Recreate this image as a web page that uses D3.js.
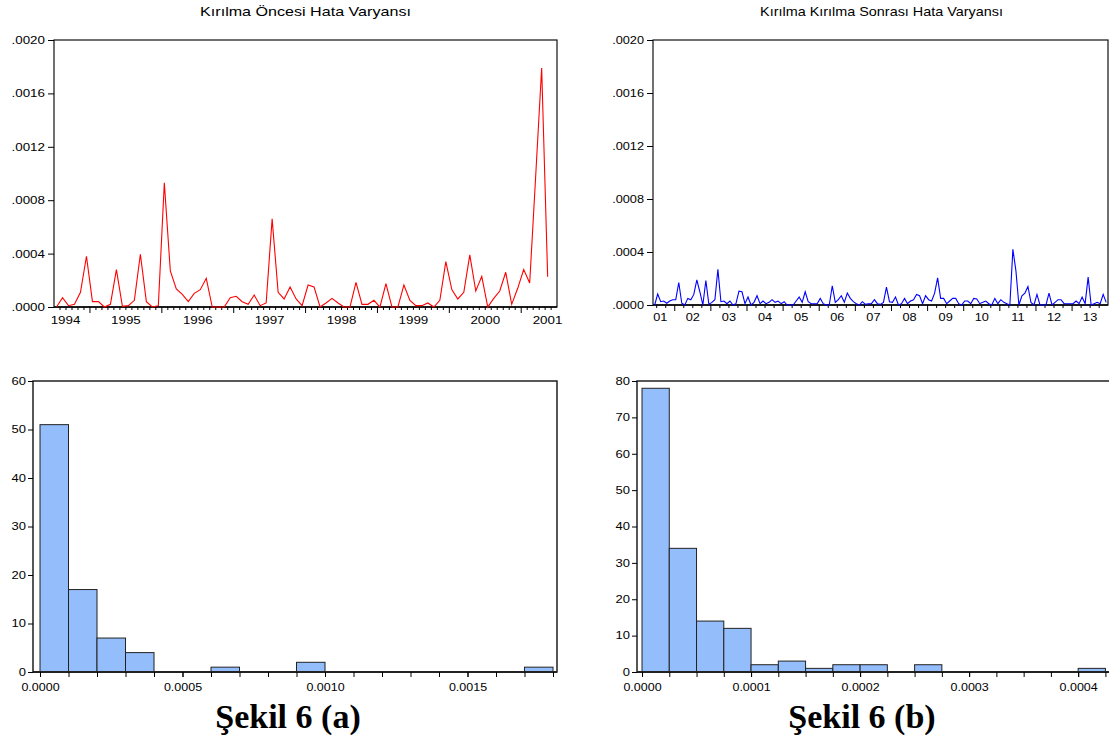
<!DOCTYPE html>
<html>
<head>
<meta charset="utf-8">
<script src="https://cdn.jsdelivr.net/npm/d3@7"></script>
<style>
  html, body { margin: 0; padding: 0; background: #fff; }
  svg { display: block; }
  text { font-family: "Liberation Sans", Arial, sans-serif; fill: #000; }
  .cap { font-family: "Liberation Serif", "Times New Roman", serif; font-weight: bold; }
</style>
</head>
<body>
<script>
// ---------------- DATA ----------------
// Kırılma Öncesi Hata Varyansı : monthly, 1994:07 - 2001:05 (83 obs)
const preYears = [1994, 1995, 1996, 1997, 1998, 1999, 2000, 2001];
const preValues = [
  0.0, 0.00007, 0.00001, 0.00002, 0.00011, 0.00038, 0.00004, 0.00004, 0.0, 0.00002,
  0.00028, 0.000005, 0.00001, 0.00005, 0.000395, 0.00004, 0.0, 0.00001, 0.00093, 0.00027,
  0.000135, 0.000095, 0.00004, 0.000102, 0.00013, 0.000215, 0.0, 0.0, 0.0, 0.00007,
  0.00008, 0.00004, 0.00002, 0.00009, 0.00001, 0.00003, 0.00066, 0.00011, 0.00006, 0.00015,
  0.00006, 0.00001, 0.000165, 0.00015, 0.0, 0.00003, 0.000065, 0.00003, 0.0, 0.0,
  0.000185, 0.00002, 0.00002, 0.00005, 0.0, 0.000175, 0.0, 0.0, 0.000165, 0.00005,
  0.00001, 0.00001, 0.00003, 0.0, 0.00005, 0.00034, 0.00013, 0.00006, 0.00011, 0.00039,
  0.00012, 0.00023, 0.0, 0.000065, 0.00012, 0.00026, 0.00002, 0.00014, 0.00028, 0.00018,
  0.00098, 0.00179, 0.000227
];
// Kırılma Sonrası Hata Varyansı : monthly, 2001:06 - 2013:12 (151 obs)
const postYears = ["01","02","03","04","05","06","07","08","09","10","11","12","13"];
const postValues = [
  0.0, 0.000083, 0.000025, 0.00003, 0.000013, 0.00003, 0.00004, 0.00004, 0.00017, 0.000013,
  0.0, 0.00005, 0.00004, 0.00008, 0.00019, 0.0001, 0.0, 0.000185, 0.000005, 0.00002,
  0.00004, 0.00027, 0.000025, 0.00003, 0.00001, 0.00003, 0.0, 0.00001, 0.000105, 0.0001,
  0.00001, 0.00006, 0.0, 0.00002, 0.00007, 0.00001, 0.00003, 0.00001, 0.00002, 0.00004,
  0.00002, 0.00003, 0.00001, 0.000025, 0.0, 0.0, 0.0, 0.00003, 0.00006, 0.00002,
  0.0001, 0.000025, 0.00001, 0.00001, 0.00001, 0.00005, 0.00001, 0.0, 0.0, 0.000145,
  0.00002, 0.00004, 0.00007, 0.00002, 0.00009, 0.00005, 0.000025, 0.00001, 0.0, 0.000025,
  0.000005, 0.00001, 0.00001, 0.00004, 0.00001, 0.000005, 0.00002, 0.000135, 0.000025, 0.00002,
  0.00006, 0.0, 0.00001, 0.00005, 0.00001, 0.00003, 0.00004, 0.00008, 0.00007, 0.00001,
  0.00007, 0.00004, 0.00003, 0.00009, 0.000205, 0.00005, 0.00005, 0.00001, 0.00003, 0.00005,
  0.00005, 0.00001, 0.0, 0.00003, 0.00003, 0.00001, 0.00005, 0.000045, 0.00001, 0.00002,
  0.00003, 0.00001, 0.0, 0.00005, 0.00001, 0.00004, 0.00002, 0.00001, 0.0, 0.00042,
  0.00026, 0.0, 0.00007, 0.00009, 0.00014, 0.00002, 0.0, 0.00008, 0.0, 0.0,
  0.0, 0.00009, 0.0, 0.00002, 0.00004, 0.00004, 0.00001, 0.00001, 0.00001, 0.00001,
  0.00003, 0.00001, 0.00006, 0.00001, 0.00021, 0.0, 0.00001, 0.00002, 0.00001, 0.00008,
  0.00002
];
const lineTicksY = [0, 0.0004, 0.0008, 0.0012, 0.0016, 0.0020];

// Histograms (bin width, counts per bin starting at 0)
const histAWidth = 0.0001;
const histACounts = [51, 17, 7, 4, 0, 0, 1, 0, 0, 2, 0, 0, 0, 0, 0, 0, 0, 1];
const histATicksX = [0, 0.0005, 0.0010, 0.0015];
const histATicksY = [0, 10, 20, 30, 40, 50, 60];
const histBWidth = 0.000025;
const histBCounts = [78, 34, 14, 12, 2, 3, 1, 2, 2, 0, 2, 0, 0, 0, 0, 0, 1];
const histBTicksX = [0, 0.0001, 0.0002, 0.0003, 0.0004];
const histBTicksY = [0, 10, 20, 30, 40, 50, 60, 70, 80];

const titleA = "Kırılma Öncesi Hata Varyansı";
const titleB = "Kırılma Kırılma Sonrası Hata Varyansı";
const captionA = "Şekil 6 (a)";
const captionB = "Şekil 6 (b)";

// ---------------- DRAW ----------------
const STRETCH = 1.25;
const svg = d3.select("body").append("svg").attr("width", 1109).attr("height", 739);

function stretchTexts(g, size) {
  g.selectAll("text").each(function () {
    const t = d3.select(this);
    const x = +t.attr("x") || 0, y = +t.attr("y") || 0;
    t.attr("x", null).attr("y", null)
     .attr("transform", `translate(${x},${y}) scale(${STRETCH},1)`)
     .style("font-size", size + "px").attr("fill", "#000");
  });
  g.selectAll("line").attr("stroke", "#000");
  g.select(".domain").remove();
  g.attr("font-family", null);
}

function frame(x0, y0, x1, y1) {
  svg.append("rect").attr("x", x0).attr("y", y0).attr("width", x1 - x0).attr("height", y1 - y0)
    .attr("fill", "none").attr("stroke", "#111").attr("stroke-width", 1.2);
  svg.append("line").attr("x1", x0).attr("x2", x1).attr("y1", y1).attr("y2", y1)
    .attr("stroke", "#000").attr("stroke-width", 1.6);
}

function title(text, cx, y, size, targetW) {
  const t = svg.append("text").attr("text-anchor", "middle").style("font-size", size + "px").text(text);
  const w = t.node().getComputedTextLength();
  const s = targetW / w;
  t.attr("transform", `translate(${cx},${y}) scale(${s},1)`);
}

const fmtDot = d => d3.format(".4f")(d).replace(/^0/, "");

// ---- Panel 1: pre-break line ----
(function () {
  const L = 54, R = 557, T = 40, B = 307;
  const x = d3.scaleLinear().domain([-0.42, 83.56]).range([L, R]);
  const y = d3.scaleLinear().domain([0, 0.002]).range([B, T]);
  frame(L, T, R, B);
  const gy = svg.append("g").attr("transform", `translate(${L},0)`)
    .call(d3.axisLeft(y).tickValues(lineTicksY).tickFormat(fmtDot).tickSize(6).tickPadding(3));
  stretchTexts(gy, 10.7);
  const majors = d3.range(0, 7).map(k => 5.5 + 12 * k);
  const minors = d3.range(0, 83).map(i => i + 0.5).filter(v => !majors.includes(v));
  const gmin = svg.append("g").attr("transform", `translate(0,${B})`)
    .call(d3.axisBottom(x).tickValues(minors).tickFormat("").tickSize(3));
  stretchTexts(gmin, 10);
  const gmaj = svg.append("g").attr("transform", `translate(0,${B})`)
    .call(d3.axisBottom(x).tickValues(majors).tickFormat("").tickSize(6));
  stretchTexts(gmaj, 10);
  const labPos = preYears.map((yr, k) => {
    const px = Math.max(65, Math.min(547, x(5.5 + 12 * (k - 1) + 6)));
    return x.invert(px);
  });
  const glab = svg.append("g").attr("transform", `translate(0,${B})`)
    .call(d3.axisBottom(x).tickValues(labPos).tickFormat((d, i) => preYears[i]).tickSize(0).tickPadding(9));
  stretchTexts(glab, 10.7);
  const line = d3.line().x((d, i) => x(i)).y(d => y(d));
  svg.append("path").datum(preValues).attr("d", line)
    .attr("fill", "none").attr("stroke", "#ff0000").attr("stroke-width", 1.1);
  title(titleA, 305.5, 16, 12.5, 211);
})();

// ---- Panel 2: post-break line ----
(function () {
  const L = 653, R = 1108, T = 40, B = 305;
  const x = d3.scaleLinear().domain([-0.56, 150.6]).range([L, R]);
  const y = d3.scaleLinear().domain([0, 0.002]).range([B, T]);
  frame(L, T, R, B);
  const gy = svg.append("g").attr("transform", `translate(${L},0)`)
    .call(d3.axisLeft(y).tickValues(lineTicksY).tickFormat(fmtDot).tickSize(6).tickPadding(3));
  stretchTexts(gy, 10.2);
  const majors = d3.range(0, 12).map(k => 6.5 + 12 * k);
  const minors = d3.range(0, 50).map(k => 0.5 + 3 * k).filter(v => v < 150.6 && !majors.includes(v));
  const gmin = svg.append("g").attr("transform", `translate(0,${B})`)
    .call(d3.axisBottom(x).tickValues(minors).tickFormat("").tickSize(3));
  stretchTexts(gmin, 10);
  const gmaj = svg.append("g").attr("transform", `translate(0,${B})`)
    .call(d3.axisBottom(x).tickValues(majors).tickFormat("").tickSize(6));
  stretchTexts(gmaj, 10);
  const labPos = postYears.map((yr, k) => {
    const px = Math.max(659.7, Math.min(1100, x(0.5 + 12 * k)));
    return x.invert(px);
  });
  const glab = svg.append("g").attr("transform", `translate(0,${B})`)
    .call(d3.axisBottom(x).tickValues(labPos).tickFormat((d, i) => postYears[i]).tickSize(0).tickPadding(9));
  stretchTexts(glab, 10.2);
  const line = d3.line().x((d, i) => x(i)).y(d => y(d));
  svg.append("path").datum(postValues).attr("d", line)
    .attr("fill", "none").attr("stroke", "#0000ff").attr("stroke-width", 1.1);
  title(titleB, 881.5, 16, 12, 243);
})();

// ---- Histograms ----
function histogram(opts) {
  const { L, R, T, B, xDom, yMax, width, counts, ticksX, ticksY, minorStep, nMinor, fmt } = opts;
  const x = d3.scaleLinear().domain(xDom).range([L, R]);
  const y = d3.scaleLinear().domain([0, yMax]).range([B, T]);
  const bins = counts.map((c, i) => ({ x0: i * width, x1: (i + 1) * width, c }));
  svg.append("g").selectAll("rect").data(bins.filter(b => b.c > 0)).join("rect")
    .attr("x", d => x(d.x0)).attr("width", d => x(d.x1) - x(d.x0))
    .attr("y", d => y(d.c)).attr("height", d => y(0) - y(d.c))
    .attr("fill", "#94bdfb").attr("stroke", "#222").attr("stroke-width", 1);
  svg.append("rect").attr("x", L).attr("y", T).attr("width", R - L).attr("height", B - T)
    .attr("fill", "none").attr("stroke", "#111").attr("stroke-width", 1.4);
  svg.append("line").attr("x1", L).attr("x2", R).attr("y1", B).attr("y2", B)
    .attr("stroke", "#222").attr("stroke-width", 2);
  const gy = svg.append("g").attr("transform", `translate(${L},0)`)
    .call(d3.axisLeft(y).tickValues(ticksY).tickSize(5).tickPadding(2));
  stretchTexts(gy, 10.4);
  const minors = d3.range(0, nMinor + 1).map(k => k * minorStep);
  const gmin = svg.append("g").attr("transform", `translate(0,${B})`)
    .call(d3.axisBottom(x).tickValues(minors).tickFormat("").tickSize(5));
  stretchTexts(gmin, 10);
  const gx = svg.append("g").attr("transform", `translate(0,${B})`)
    .call(d3.axisBottom(x).tickValues(ticksX).tickFormat(fmt).tickSize(5).tickPadding(7));
  stretchTexts(gx, 10);
}

histogram({ L: 33, R: 557, T: 381, B: 672, xDom: [-0.0000246, 0.001814], yMax: 60,
  width: histAWidth, counts: histACounts, ticksX: histATicksX, ticksY: histATicksY,
  minorStep: 0.0001, nMinor: 18, fmt: d3.format(".4f") });
histogram({ L: 637, R: 1110, T: 381, B: 672, xDom: [-0.0000046, 0.0004292], yMax: 80,
  width: histBWidth, counts: histBCounts, ticksX: histBTicksX, ticksY: histBTicksY,
  minorStep: 0.000025, nMinor: 17, fmt: d3.format(".4f") });

// ---- Captions ----
svg.append("text").attr("class", "cap").attr("x", 288).attr("y", 728)
  .attr("text-anchor", "middle").style("font-size", "34px").text(captionA);
svg.append("text").attr("class", "cap").attr("x", 862).attr("y", 728)
  .attr("text-anchor", "middle").style("font-size", "34px").text(captionB);
</script>
</body>
</html>
